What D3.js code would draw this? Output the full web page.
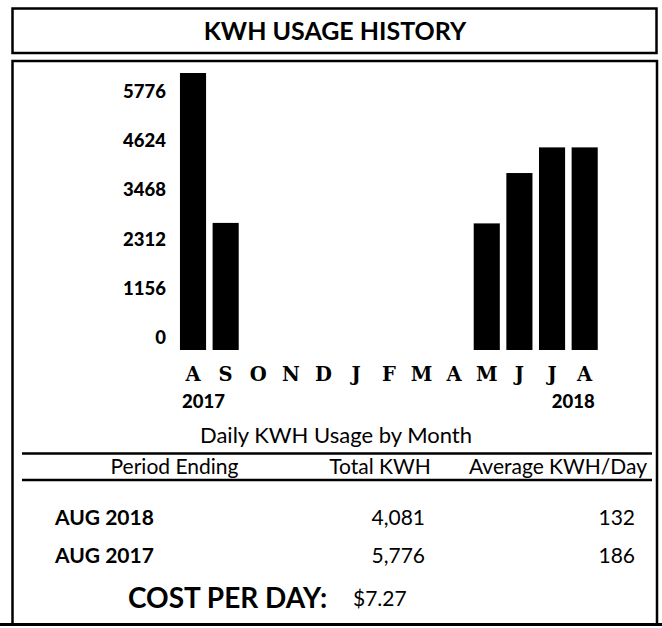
<!DOCTYPE html>
<html>
<head>
<meta charset="utf-8">
<script src="https://cdn.jsdelivr.net/npm/d3@7/dist/d3.min.js"></script>
<style>
  html, body { margin: 0; padding: 0; background: #fff; }
  svg { display: block; }
  text { fill: #000; }
</style>
</head>
<body>
<div id="chart"></div>
<script>
var months = ['A', 'S', 'O', 'N', 'D', 'J', 'F', 'M', 'A', 'M', 'J', 'J', 'A'];
// monthly kWh; null = no bar drawn
var usage = [5776, 2650, null, null, null, null, null, null, null, 2640, 3690, 4225, 4225];
var yTicks = [0, 1156, 2312, 3468, 4624, 5776];
var years = ['2017', '2018'];

var periods = ['AUG 2018', 'AUG 2017'];
var totals = [4081, 5776];
var averages = [132, 186];
var costPerDay = 7.27;

(function () {
  var width = 662;
  var height = 628;
  var sans = 'Lato, "Open Sans", sans-serif';

  var svg = d3.select('#chart').append('svg')
      .attr('width', width)
      .attr('height', height);

  // frames
  svg.append('rect')
      .attr('x', 12.5).attr('y', 8.5)
      .attr('width', 644).attr('height', 44.5)
      .attr('fill', 'none').attr('stroke', '#000').attr('stroke-width', 2.5);

  svg.append('path')
      .attr('d', 'M12.5,624 V61 H657 V624')
      .attr('fill', 'none').attr('stroke', '#000').attr('stroke-width', 2.5);

  svg.append('line')
      .attr('x1', 0).attr('x2', width)
      .attr('y1', 624.5).attr('y2', 624.5)
      .attr('stroke', '#000').attr('stroke-width', 3);

  svg.append('text')
      .attr('x', 335).attr('y', 40)
      .attr('text-anchor', 'middle')
      .style('font-family', sans).style('font-weight', 700).style('font-size', '25px')
      .text('KWH USAGE HISTORY');

  // bars
  var xScale = d3.scaleBand()
      .domain(d3.range(months.length))
      .range([176.7, 601])
      .paddingInner(0.2)
      .paddingOuter(0.1);

  var yScale = d3.scaleLinear().domain([0, 5776]).range([350, 73]);
  // printed tick labels sit on their own, tighter spacing
  var yLabelScale = yScale.copy().range([338, 91.5]);

  svg.selectAll('rect.bar')
      .data(usage.map(function (v, i) { return {i: i, v: v}; }).filter(function (d) { return d.v != null; }))
      .enter().append('rect')
      .attr('class', 'bar')
      .attr('x', function (d) { return xScale(d.i); })
      .attr('y', function (d) { return yScale(d.v); })
      .attr('width', xScale.bandwidth())
      .attr('height', function (d) { return yScale(0) - yScale(d.v); })
      .attr('fill', '#000');

  var yAxis = d3.axisLeft(yLabelScale).tickValues(yTicks).tickSize(0).tickPadding(0)
      .tickFormat(d3.format('d'));
  var yAxisEl = svg.append('g')
      .attr('transform', 'translate(166,0)')
      .call(yAxis);
  yAxisEl.select('.domain').remove();
  yAxisEl.selectAll('text')
      .style('font-family', sans).style('font-weight', 900).style('font-size', '18.5px');

  var xAxis = d3.axisBottom(xScale).tickSize(0).tickPadding(0)
      .tickFormat(function (i) { return months[i]; });
  var xAxisEl = svg.append('g')
      .attr('transform', 'translate(0,367)')
      .call(xAxis);
  xAxisEl.select('.domain').remove();
  xAxisEl.selectAll('text')
      .style('font-family', '"DejaVu Serif", serif').style('font-weight', 700).style('font-size', '19.5px');

  svg.append('text')
      .attr('x', xScale(0) + 2).attr('y', 408)
      .style('font-family', sans).style('font-weight', 900).style('font-size', '18.5px')
      .text(years[0]);
  svg.append('text')
      .attr('x', xScale(months.length - 1) + xScale.bandwidth() - 3).attr('y', 408)
      .attr('text-anchor', 'end')
      .style('font-family', sans).style('font-weight', 900).style('font-size', '18.5px')
      .text(years[1]);

  svg.append('text')
      .attr('x', 336).attr('y', 443)
      .attr('text-anchor', 'middle')
      .style('font-family', sans).style('font-size', '22px')
      .text('Daily KWH Usage by Month');

  // summary table
  [453.5, 480].forEach(function (y) {
    svg.append('line')
        .attr('x1', 22).attr('x2', 652)
        .attr('y1', y).attr('y2', y)
        .attr('stroke', '#000').attr('stroke-width', 2.5);
  });

  var headers = [
    {text: 'Period Ending', x: 174.5},
    {text: 'Total KWH', x: 380},
    {text: 'Average KWH/Day', x: 558}
  ];
  svg.selectAll('text.head')
      .data(headers)
      .enter().append('text')
      .attr('class', 'head')
      .attr('x', function (d) { return d.x; })
      .attr('y', 473.5)
      .attr('text-anchor', 'middle')
      .style('font-family', sans).style('font-size', '21px')
      .text(function (d) { return d.text; });

  var rowY = d3.scalePoint().domain(d3.range(periods.length)).range([524.5, 563]);
  var rows = svg.selectAll('g.row')
      .data(periods)
      .enter().append('g')
      .attr('class', 'row')
      .attr('transform', function (d, i) { return 'translate(0,' + rowY(i) + ')'; });

  rows.append('text')
      .attr('x', 55)
      .style('font-family', sans).style('font-weight', 700).style('font-size', '21px')
      .text(function (d) { return d; });
  rows.append('text')
      .attr('x', 425).attr('text-anchor', 'end')
      .style('font-family', sans).style('font-size', '21px')
      .text(function (d, i) { return d3.format(',')(totals[i]); });
  rows.append('text')
      .attr('x', 635).attr('text-anchor', 'end')
      .style('font-family', sans).style('font-size', '21px')
      .text(function (d, i) { return averages[i]; });

  svg.append('text')
      .attr('x', 128).attr('y', 608)
      .style('font-family', sans).style('font-weight', 700).style('font-size', '28px')
      .text('COST PER DAY:');
  svg.append('text')
      .attr('x', 353).attr('y', 606)
      .style('font-family', sans).style('font-size', '21px')
      .text(d3.format('$.2f')(costPerDay));
})();
</script>
</body>
</html>
